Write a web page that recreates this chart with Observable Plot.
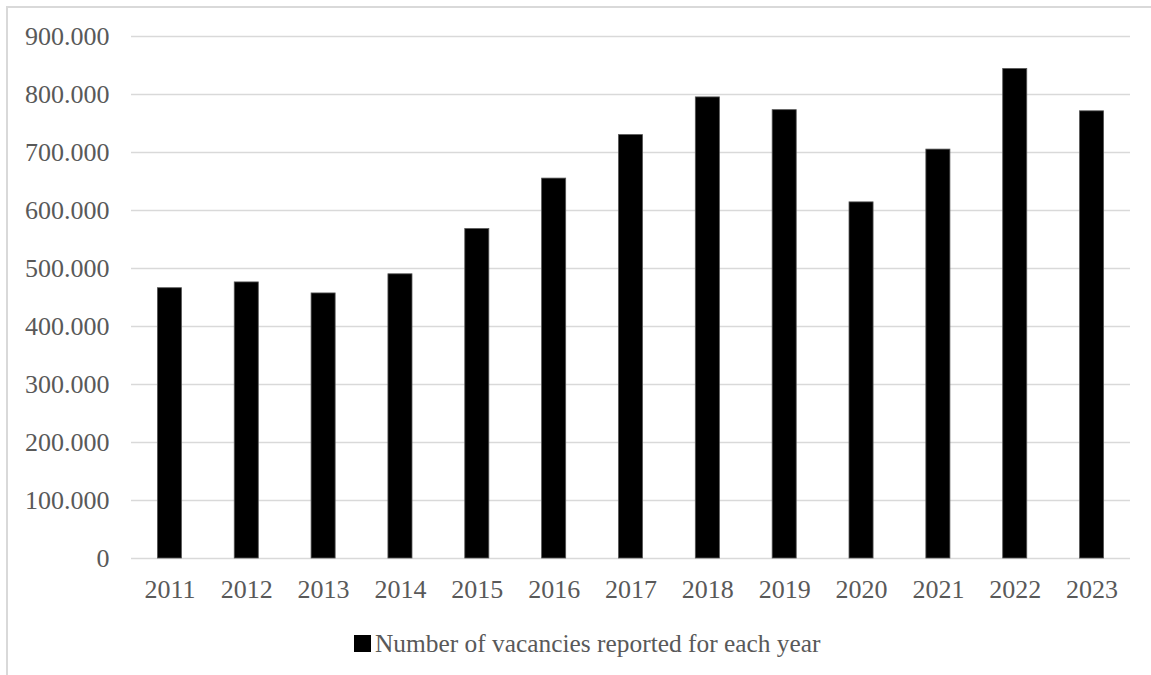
<!DOCTYPE html>
<html>
<head>
<meta charset="utf-8">
<script src="https://cdn.jsdelivr.net/npm/d3@7"></script>
<script src="https://cdn.jsdelivr.net/npm/@observablehq/plot@0.6"></script>
<style>
  html, body { margin: 0; padding: 0; background: #fff; }
  #wrap { position: relative; width: 1151px; height: 675px; overflow: hidden; background: #fff; }
  #frame { position: absolute; left: 6px; top: 6px; width: 1145px; height: 669px;
           border-left: 2px solid #d9d9d9; border-top: 2px solid #d9d9d9; box-sizing: border-box; }
  #chart { position: absolute; left: 0; top: 0; }
  #legend { position: absolute; left: 354px; top: 629px; display: flex; align-items: center;
            font-family: "Liberation Serif", serif; font-size: 25.4px; color: #595959; white-space: nowrap; }
  #legend .sw { width: 17px; height: 17px; background: #000; margin-right: 4px; }
</style>
</head>
<body>
<div id="wrap">
  <div id="frame"></div>
  <div id="chart"></div>
  <div id="legend"></div>
</div>
<script>
const years = ["2011","2012","2013","2014","2015","2016","2017","2018","2019","2020","2021","2022","2023"];
const vacancies = [466000, 476000, 457000, 490000, 568000, 655000, 730000, 795000, 773000, 614000, 705000, 844000, 771000];
const yTicks = [0, 100000, 200000, 300000, 400000, 500000, 600000, 700000, 800000, 900000];
const seriesLabel = "Number of vacancies reported for each year";

const data = years.map((y, i) => ({year: y, value: vacancies[i]}));
const locale = d3.formatLocale({decimal: ",", thousands: ".", grouping: [3], currency: ["", ""]});
const fmt = locale.format(",d");

const chart = Plot.plot({
  width: 1151,
  height: 620,
  marginTop: 36,
  marginBottom: 62,
  marginLeft: 131,
  marginRight: 21,
  style: {fontFamily: "'Liberation Serif', serif", fontSize: "26px", color: "#595959", background: "transparent"},
  x: {domain: years, padding: 0, round: false, label: null, tickSize: 0, tickPadding: 21},
  y: {domain: [0, 900000], ticks: yTicks, tickFormat: fmt, label: null, tickSize: 0, tickPadding: 22},
  marks: [
    Plot.gridY(yTicks, {stroke: "#d9d9d9", strokeOpacity: 1, strokeWidth: 1.5}),
    Plot.barY(data, {x: "year", y: "value", fill: "#000", stroke: "#555", strokeWidth: 0.8, insetLeft: 26.4, insetRight: 26.4})
  ]
});
document.getElementById("chart").appendChild(chart);

const lg = document.getElementById("legend");
const sw = document.createElement("span"); sw.className = "sw";
const tx = document.createElement("span"); tx.textContent = seriesLabel;
lg.appendChild(sw); lg.appendChild(tx);
</script>
</body>
</html>
